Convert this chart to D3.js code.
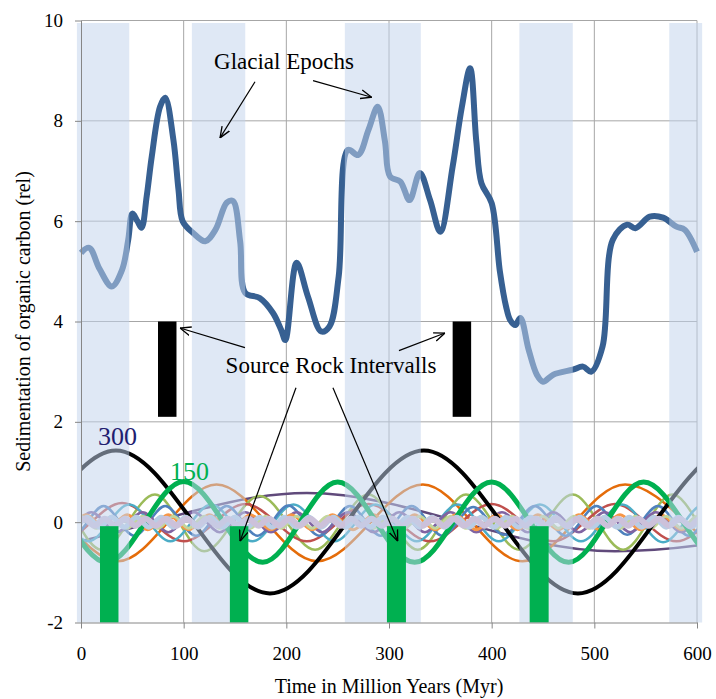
<!DOCTYPE html>
<html>
<head>
<meta charset="utf-8">
<script src="https://cdn.jsdelivr.net/npm/d3@7"></script>
<style>
body { margin: 0; background: #fff; }
</style>
</head>
<body>
<script>
// ticks
var xTicks = [0, 100, 200, 300, 400, 500, 600];
var yTicks = [-2, 0, 2, 4, 6, 8, 10];

// glacial epochs (Myr)
var glacialStart = [-4, 108, 257, 427, 573];
var glacialEnd   = [47, 160, 331, 479, 605];

// source rock intervals (black = organic carbon level, green = cycle panel)
var blackStart = [75, 362], blackEnd = [93, 380];
var blackLow = 2.1, blackHigh = 4.0;
var greenStart = [18.5, 145, 298, 437], greenEnd = [36.5, 163, 316.5, 455.5];
var greenLow = -2, greenHigh = -0.08;

// sedimentation of organic carbon
var mainX = [0, 8, 18, 30, 40, 46, 50, 55, 59, 64, 69, 77, 82, 90, 95, 99, 109, 121, 131, 142, 148, 155, 160,
             174, 187, 195, 199, 210, 221, 234, 242, 251, 260, 270, 280, 289, 296, 301, 311, 320, 330, 340,
             350, 362, 371, 379, 385, 390, 400, 408, 414, 418, 423, 428, 436, 444, 450, 460, 479, 489, 497,
             508, 518, 532, 540, 554, 567, 580, 588, 600];
var mainY = [5.37, 5.47, 5.05, 4.70, 5.03, 5.63, 6.15, 6.0, 5.87, 6.5, 7.3, 8.28, 8.46, 7.62, 6.62, 6.0, 5.77, 5.6, 5.83, 6.37, 6.4, 5.6, 4.57,
             4.47, 4.17, 3.83, 3.63, 5.17, 4.5, 3.8, 3.9, 4.9, 7.42, 7.32, 7.82, 8.28, 7.6, 6.89, 6.79, 6.42, 6.96, 6.42,
             5.79, 7.09, 8.28, 9.05, 7.6, 6.76, 6.36, 5.0, 4.3, 4.03, 3.93, 4.07, 3.44, 2.94, 2.8, 2.94, 3.04, 3.1, 3.0,
             3.5, 5.63, 5.93, 5.86, 6.09, 6.07, 5.89, 5.83, 5.39];

// cycles: extremes [Myr, value]
var cycle600 = [[-380,0.58],[-80,-0.58],[220,0.58],[520,-0.58],[820,0.58]];
var cycle300 = [[-266,1.43],[-116,-1.42],[34,1.43],[184,-1.42],[334,1.43],[484,-1.42],[634,1.43],[784,-1.42]];
var cycle200 = [[-164,-0.78],[-64,0.75],[36,-0.78],[132,0.75],[230,-0.78],[333,0.75],[430,-0.78],[530,0.75],
                [650,-0.78],[750,0.75]];
var cycle150 = [[-125,-0.8],[-50,0.8],[25,-0.8],[100,0.81],[177,-0.8],[250,0.8],[325,-0.8],[400,0.8],[475,-0.8],
                [548,0.8],[625,-0.8],[700,0.8]];
var cycle120 = [[-80,0.36],[-20,-0.38],[40,0.38],[100,-0.38],[160,0.36],[220,-0.38],[280,0.36],[340,-0.38],[400,0.36],
                [460,-0.38],[520,0.36],[580,-0.38],[640,0.36],[700,-0.38]];
var cycle100 = [[-78,-0.55],[-28,0.55],[20,-0.55],[72,0.55],[120,-0.58],[174,0.52],[228,-0.55],[280,0.55],[328,-0.55],
                [375,0.55],[427,-0.55],[479,0.55],[528,-0.55],[576,0.55],[625,-0.55],[675,0.55]];
var cycle80 = [[-73,-0.38],[-33,0.35],[7,-0.38],[47,0.35],[87,-0.38],[127,0.35],[167,-0.38],[207,0.35],[247,-0.38],
               [287,0.35],[327,-0.38],[367,0.35],[407,-0.38],[447,0.35],[487,-0.38],[527,0.35],[567,-0.4],[607,0.35],
               [647,-0.38]];
var cycle60 = [[-38,0.32],[-8,-0.27],[22,0.32],[52,-0.27],[82,0.32],[112,-0.27],[142,0.32],[172,-0.27],[202,0.33],
               [232,-0.27],[262,0.32],[292,-0.27],[322,0.32],[352,-0.27],[382,0.3],[412,-0.25],[442,0.32],[472,-0.27],
               [502,0.32],[532,-0.25],[562,0.32],[592,-0.27],[622,0.32],[652,-0.27]];
var cycle50 = [[-40,0.2],[-15,-0.2],[10,0.2],[35,-0.2],[60,0.2],[85,-0.2],[110,0.2],[135,-0.2],[160,0.2],[185,-0.2],
               [210,0.2],[235,-0.2],[260,0.2],[285,-0.2],[310,0.2],[335,-0.2],[360,0.2],[385,-0.2],[410,0.2],[435,-0.2],
               [460,0.2],[485,-0.2],[510,0.2],[535,-0.2],[560,0.2],[585,-0.2],[610,0.2],[635,-0.2]];
var cycle40 = [[-35,0.15],[-15,-0.15],[5,0.15],[25,-0.15],[45,0.15],[65,-0.15],[85,0.15],[105,-0.15],[125,0.15],
               [145,-0.15],[165,0.15],[185,-0.15],[205,0.15],[225,-0.15],[245,0.15],[265,-0.15],[285,0.15],[305,-0.15],
               [325,0.15],[345,-0.15],[365,0.15],[385,-0.15],[405,0.15],[425,-0.15],[445,0.15],[465,-0.15],[485,0.15],
               [505,-0.15],[525,0.15],[545,-0.15],[565,0.15],[585,-0.15],[605,0.15],[625,-0.15]];
var cycle30 = [[-30,0.12],[-15,-0.12],[0,0.12],[15,-0.12],[30,0.12],[45,-0.12],[60,0.12],[75,-0.12],[90,0.12],
               [105,-0.12],[120,0.12],[135,-0.12],[150,0.12],[165,-0.12],[180,0.12],[195,-0.12],[210,0.12],[225,-0.12],
               [240,0.12],[255,-0.12],[270,0.12],[285,-0.12],[300,0.12],[315,-0.12],[330,0.12],[345,-0.12],[360,0.12],
               [375,-0.12],[390,0.12],[405,-0.12],[420,0.12],[435,-0.12],[450,0.12],[465,-0.12],[480,0.12],[495,-0.12],
               [510,0.12],[525,-0.12],[540,0.12],[555,-0.12],[570,0.12],[585,-0.12],[600,0.12],[615,-0.12],[630,0.12]];
var cycle24 = [[-18,0.1],[-6,-0.1],[6,0.1],[18,-0.1],[30,0.1],[42,-0.1],[54,0.1],[66,-0.1],[78,0.1],[90,-0.1],
               [102,0.1],[114,-0.1],[126,0.1],[138,-0.1],[150,0.1],[162,-0.1],[174,0.1],[186,-0.1],[198,0.1],
               [210,-0.1],[222,0.1],[234,-0.1],[246,0.1],[258,-0.1],[270,0.1],[282,-0.1],[294,0.1],[306,-0.1],
               [318,0.1],[330,-0.1],[342,0.1],[354,-0.1],[366,0.1],[378,-0.1],[390,0.1],[402,-0.1],[414,0.1],
               [426,-0.1],[438,0.1],[450,-0.1],[462,0.1],[474,-0.1],[486,0.1],[498,-0.1],[510,0.1],[522,-0.1],
               [534,0.1],[546,-0.1],[558,0.1],[570,-0.1],[582,0.1],[594,-0.1],[606,0.1],[618,-0.1]];
var cycle20 = [[-17,0.07],[-7,-0.07],[3,0.07],[13,-0.07],[23,0.07],[33,-0.07],[43,0.07],[53,-0.07],[63,0.07],[73,-0.07],
               [83,0.07],[93,-0.07],[103,0.07],[113,-0.07],[123,0.07],[133,-0.07],[143,0.07],[153,-0.07],[163,0.07],
               [173,-0.07],[183,0.07],[193,-0.07],[203,0.07],[213,-0.07],[223,0.07],[233,-0.07],[243,0.07],[253,-0.07],
               [263,0.07],[273,-0.07],[283,0.07],[293,-0.07],[303,0.07],[313,-0.07],[323,0.07],[333,-0.07],[343,0.07],
               [353,-0.07],[363,0.07],[373,-0.07],[383,0.07],[393,-0.07],[403,0.07],[413,-0.07],[423,0.07],[433,-0.07],
               [443,0.07],[453,-0.07],[463,0.07],[473,-0.07],[483,0.07],[493,-0.07],[503,0.07],[513,-0.07],[523,0.07],
               [533,-0.07],[543,0.07],[553,-0.07],[563,0.07],[573,-0.07],[583,0.07],[593,-0.07],[603,0.07],[613,-0.07]];

//positioning/sizing
var margin = {top: 20.5, right: 19, bottom: 76.5, left: 81},
    svg_dx = 716,
    svg_dy = 699;

var x = d3.scaleLinear().domain([0, 600]).range([margin.left, svg_dx - margin.right]),
    y = d3.scaleLinear().domain([-2, 10]).range([svg_dy - margin.bottom, margin.top]);

var serif = "'Times New Roman', Times, 'Liberation Serif', 'DejaVu Serif', 'Noto Serif', serif";

var svg = d3.select("body").append("svg")
    .attr("width", svg_dx)
    .attr("height", svg_dy)
    .style("font-family", serif);

var defs = svg.append("defs");
defs.append("clipPath").attr("id", "plotclip")
    .append("rect")
    .attr("x", x(0)).attr("y", 0)
    .attr("width", x(600) - x(0)).attr("height", svg_dy);

defs.append("marker")
    .attr("id", "arrow")
    .attr("viewBox", "0 0 10 10")
    .attr("refX", 10).attr("refY", 5)
    .attr("markerWidth", 11).attr("markerHeight", 11)
    .attr("markerUnits", "userSpaceOnUse")
    .attr("orient", "auto")
    .append("path")
    .attr("d", "M0,1 L10,5 L0,9")
    .attr("fill", "none")
    .attr("stroke", "#000")
    .attr("stroke-width", 1.2);

// gridlines
var grid = svg.append("g").attr("stroke", "#a6a6a6").attr("stroke-width", 1);
grid.selectAll(".gh").data(yTicks.slice(1)).enter().append("line")
    .attr("x1", x(0)).attr("x2", x(600))
    .attr("y1", d => y(d)).attr("y2", d => y(d));
grid.selectAll(".gv").data(xTicks.slice(1)).enter().append("line")
    .attr("x1", d => x(d)).attr("x2", d => x(d))
    .attr("y1", y(-2)).attr("y2", y(10));

// cycles (monotone curve keeps the peaks flat at the read extremes)
var cycleLine = d3.line()
    .x(d => x(d[0]))
    .y(d => y(d[1]))
    .curve(d3.curveMonotoneX);

var cycles = [
    {data: cycle600, color: "#604a7b", w: 2.5},
    {data: cycle200, color: "#e46c0a", w: 2.5},
    {data: cycle100, color: "#9bbb59", w: 2.5},
    {data: cycle120, color: "#c0504d", w: 2.5},
    {data: cycle80,  color: "#4bacc6", w: 2.5},
    {data: cycle60,  color: "#4f81bd", w: 2.5},
    {data: cycle50,  color: "#8064a2", w: 2.5},
    {data: cycle40,  color: "#f79646", w: 3},
    {data: cycle30,  color: "#c3d69b", w: 3},
    {data: cycle300, color: "#000000", w: 4},
    {data: cycle150, color: "#00b050", w: 5},
    {data: cycle24,  color: "#b9cde5", w: 5},
    {data: cycle20,  color: "#ccc1da", w: 6}
];

svg.append("g")
    .attr("clip-path", "url(#plotclip)")
    .selectAll("path")
    .data(cycles)
    .enter()
    .append("path")
    .attr("d", d => cycleLine(d.data))
    .attr("fill", "none")
    .attr("stroke", d => d.color)
    .attr("stroke-width", d => d.w);

// organic carbon curve
var mainLine = d3.line()
    .x((d, i) => x(mainX[i]))
    .y((d, i) => y(mainY[i]))
    .curve(d3.curveCatmullRom.alpha(0.5));

svg.append("path")
    .attr("d", mainLine(mainX))
    .attr("fill", "none")
    .attr("stroke", "#376092")
    .attr("stroke-width", 6)
    .attr("stroke-linejoin", "round");

// glacial bands (translucent, on top of the lines)
svg.append("g")
    .selectAll("rect")
    .data(glacialStart)
    .enter()
    .append("rect")
    .attr("x", d => x(d))
    .attr("width", (d, i) => x(glacialEnd[i]) - x(d))
    .attr("y", y(9.95))
    .attr("height", y(-2) - y(9.95))
    .attr("fill", "rgb(193,211,236)")
    .attr("fill-opacity", 0.52);

// source rock interval bars
svg.append("g")
    .selectAll("rect")
    .data(blackStart)
    .enter()
    .append("rect")
    .attr("x", d => x(d))
    .attr("width", (d, i) => x(blackEnd[i]) - x(d))
    .attr("y", y(blackHigh))
    .attr("height", y(blackLow) - y(blackHigh))
    .attr("fill", "#000");

svg.append("g")
    .selectAll("rect")
    .data(greenStart)
    .enter()
    .append("rect")
    .attr("x", d => x(d))
    .attr("width", (d, i) => x(greenEnd[i]) - x(d))
    .attr("y", y(greenHigh))
    .attr("height", y(greenLow) - y(greenHigh))
    .attr("fill", "#00b050");

// axes
var axis_x = d3.axisBottom(x).tickValues(xTicks).tickFormat(d => String(d))
        .tickSize(6).tickSizeOuter(0).tickPadding(18),
    axis_y = d3.axisLeft(y).tickValues(yTicks).tickFormat(d => String(d))
        .tickSize(6).tickSizeOuter(0).tickPadding(12);

var gx = svg.append("g")
    .attr("transform", "translate(0," + y(-2) + ")")
    .call(axis_x);
var gy = svg.append("g")
    .attr("transform", "translate(" + x(0) + ",0)")
    .call(axis_y);

[gx, gy].forEach(function(g) {
    g.attr("font-family", null).attr("font-size", null);
    g.selectAll("path, line").attr("stroke", "#868686");
    g.selectAll("text").attr("fill", "#000").style("font-size", "19px");
});

svg.append("text")
    .attr("x", (x(0) + x(600)) / 2)
    .attr("y", 693)
    .attr("text-anchor", "middle")
    .style("font-size", "20px")
    .text("Time in Million Years (Myr)");

svg.append("text")
    .attr("transform", "translate(30," + ((y(-2) + y(10)) / 2) + ") rotate(-90)")
    .attr("text-anchor", "middle")
    .style("font-size", "20px")
    .text("Sedimentation of organic carbon (rel)");

// annotations
svg.append("text")
    .attr("x", x(197.7)).attr("y", y(9.03))
    .attr("text-anchor", "middle")
    .style("font-size", "23px")
    .text("Glacial Epochs");

svg.append("text")
    .attr("x", x(243.5)).attr("y", y(2.98))
    .attr("text-anchor", "middle")
    .style("font-size", "23px")
    .text("Source Rock Intervalls");

var arrows = [
    [[169.5, 8.78], [135.4, 7.66]],
    [[226, 8.80], [283.1, 8.47]],
    [[159.7, 3.48], [96.4, 3.87]],
    [[309.7, 3.42], [354.5, 3.77]],
    [[209.4, 2.68], [154.9, -0.38]],
    [[245.4, 2.68], [308.5, -0.38]]
];

svg.append("g")
    .selectAll("line")
    .data(arrows)
    .enter()
    .append("line")
    .attr("x1", d => x(d[0][0])).attr("y1", d => y(d[0][1]))
    .attr("x2", d => x(d[1][0])).attr("y2", d => y(d[1][1]))
    .attr("stroke", "#000")
    .attr("stroke-width", 1.2)
    .attr("marker-end", "url(#arrow)");

svg.append("text")
    .attr("x", x(16.6)).attr("y", y(1.54))
    .attr("fill", "#1f2070")
    .style("font-size", "26px")
    .text("300");

svg.append("text")
    .attr("x", x(86.7)).attr("y", y(0.85))
    .attr("fill", "#00b050")
    .style("font-size", "26px")
    .text("150");
</script>
</body>
</html>
